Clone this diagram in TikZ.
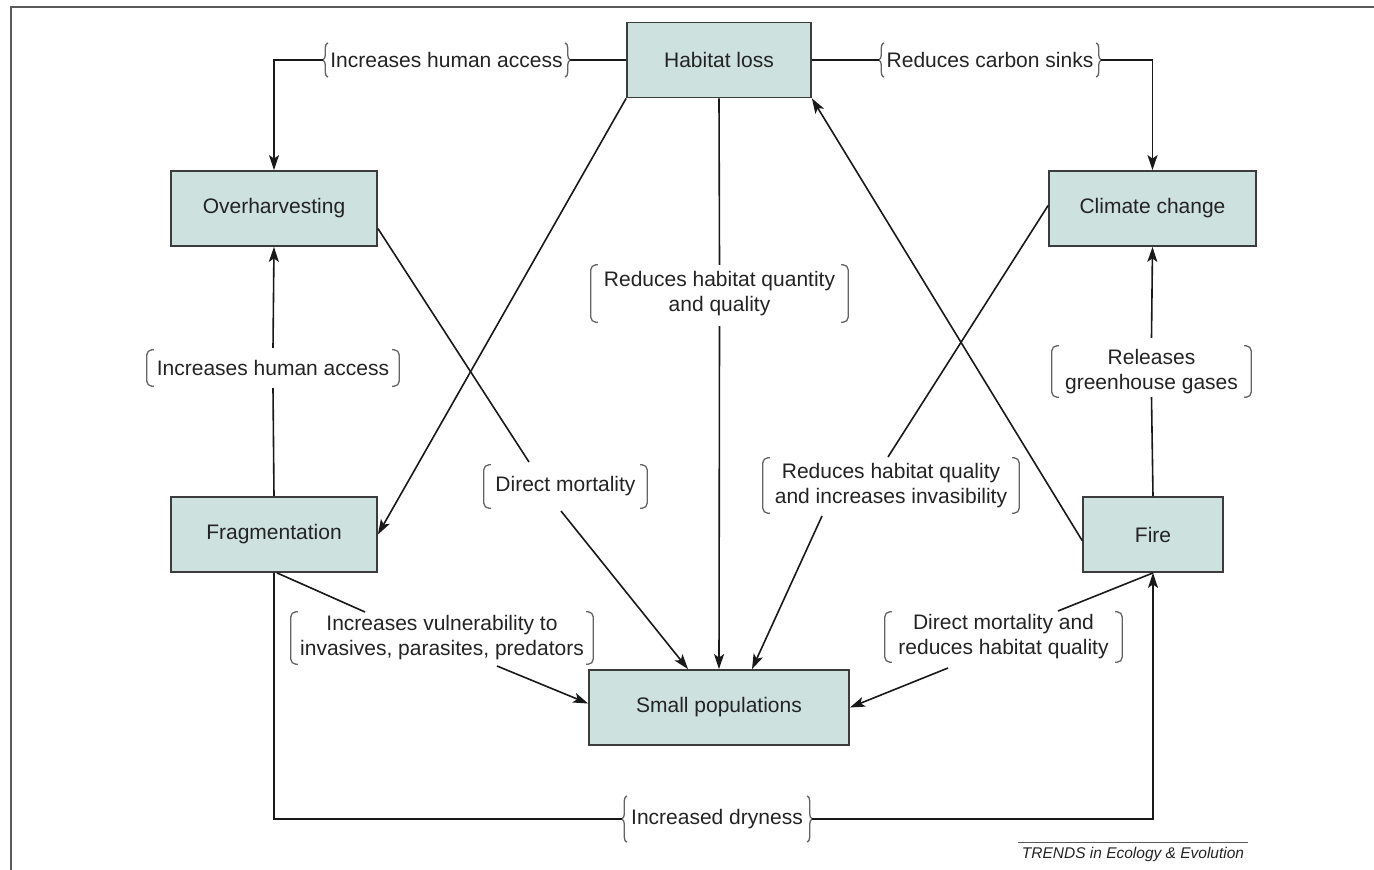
\documentclass[tikz,border=0pt]{standalone}
\usepackage{fontspec}
\setmainfont{Liberation Sans}
\usetikzlibrary{arrows.meta,decorations.pathreplacing}
\definecolor{boxfill}{RGB}{205,225,222}
\definecolor{boxline}{RGB}{60,60,60}
\definecolor{txt}{RGB}{35,35,35}
\definecolor{brk}{RGB}{100,100,100}
\definecolor{lc}{RGB}{25,25,25}
\definecolor{framec}{RGB}{90,90,90}
\newcommand\mysqb[1]{%
  \draw[brkline,rounded corners=5pt] ([xshift=7pt]#1.north west) -- (#1.north west) -- (#1.south west) -- ([xshift=7pt]#1.south west);
  \draw[brkline,rounded corners=5pt] ([xshift=-7pt]#1.north east) -- (#1.north east) -- (#1.south east) -- ([xshift=-7pt]#1.south east);}
\newcommand\mycub[1]{%
  \draw[brkline,decorate,decoration={brace,amplitude=5pt}] ([xshift=5pt]#1.south west) -- ([xshift=5pt]#1.north west);
  \draw[brkline,decorate,decoration={brace,amplitude=5pt}] ([xshift=-5pt]#1.north east) -- ([xshift=-5pt]#1.south east);}
\begin{document}
\begin{tikzpicture}[x=1pt,y=-1pt,
  font=\fontsize{21pt}{25pt}\selectfont,
  box/.style={draw=boxline, line width=1.8pt, fill=boxfill, minimum height=75pt, inner sep=0pt, text=txt},
  lab/.style={inner sep=0pt, align=center, text=txt},
  brkline/.style={draw=brk, line width=1.3pt},
  conn/.style={draw=lc, line width=1.6pt},
  arr/.style={conn, -{Stealth[length=15pt,width=10pt,inset=3.5pt]}}]
\useasboundingbox (0,0) rectangle (1374,870);
\draw[framec, line width=2pt] (11,870) -- (11,7) -- (1374,7);

% boxes
\node[box, minimum width=184pt] (hab) at (719,60) {Habitat loss};
\node[box, minimum width=206pt] (ovh) at (274,208.5) {Overharvesting};
\node[box, minimum width=207pt] (clim) at (1152.5,208.5) {Climate change};
\node[box, minimum width=206pt] (frag) at (274,534.5) {Fragmentation};
\node[box, minimum width=140pt] (fire) at (1153,534.5) {Fire};
\node[box, minimum width=260pt] (small) at (719,707.5) {Small populations};

% labels
\node[lab, minimum width=247pt, minimum height=34pt] (l1) at (446.5,60) {Increases human access};
\node[lab, minimum width=222pt, minimum height=34pt] (l2) at (990,60) {Reduces carbon sinks};
\node[lab, minimum width=252pt, minimum height=36pt] (l3) at (273,368) {Increases human access};
\node[lab, minimum width=257pt, minimum height=57pt] (l4) at (719.5,293.5) {Reduces habitat quantity\\and quality};
\node[lab, minimum width=163pt, minimum height=43pt] (l5) at (565.5,486.5) {Direct mortality};
\node[lab, minimum width=256pt, minimum height=55pt] (l6) at (891,485.5) {Reduces habitat quality\\and increases invasibility};
\node[lab, minimum width=199pt, minimum height=51pt] (l7) at (1151.5,371.5) {Releases\\greenhouse gases};
\node[lab, minimum width=302pt, minimum height=52pt] (l8) at (442,638) {Increases vulnerability to\\invasives, parasites, predators};
\node[lab, minimum width=237pt, minimum height=50pt] (l9) at (1003.5,637) {Direct mortality and\\reduces habitat quality};
\node[lab, minimum width=190pt, minimum height=46pt] (l10) at (717,819) {Increased dryness};

\mycub{l1}\mycub{l2}\mycub{l10}
\mysqb{l3}\mysqb{l4}\mysqb{l5}\mysqb{l6}\mysqb{l7}\mysqb{l8}\mysqb{l9}

% free ends at labels
\coordinate (c5a) at (529,462); \coordinate (c5b) at (561,511);
\coordinate (c6a) at (888,457); \coordinate (c6b) at (822,516);
\coordinate (c8a) at (365,612); \coordinate (c8b) at (497,666);
\coordinate (c9a) at (1058,611); \coordinate (c9b) at (948,668);

% connectors
\draw[conn] (hab.west) -- (l1.east);
\draw[arr] (l1.west) -| (ovh.north);
\draw[conn] (hab.east) -- (l2.west);
\draw[arr] (l2.east) -| (clim.north);
\draw[conn] (frag.north) -- ([yshift=-2pt]l3.south);
\draw[arr] ([yshift=2pt]l3.north) -- (ovh.south);
\draw[conn] (hab.south) -- (l4.north);
\draw[arr] ([yshift=-4pt]l4.south) -- (small.north);
\draw[arr] (hab.south west) -- (frag.east);
\draw[conn] ([yshift=-20pt]ovh.east) -- (c5a);
\draw[arr] (c5b) -- ([xshift=-31pt]small.north);
\draw[conn] ([yshift=3pt]clim.west) -- (c6a);
\draw[arr] (c6b) -- ([xshift=33pt]small.north);
\draw[arr] ([yshift=-6pt]fire.west) -- (hab.south east);
\draw[conn] (fire.north) -- (l7.south);
\draw[arr] ([yshift=8pt]l7.north) -- (clim.south);
\draw[conn] (fire.south) -- (c9a);
\draw[arr] (c9b) -- (small.east);
\draw[conn] ([xshift=3pt]frag.south) -- (c8a);
\draw[arr] (c8b) -- ([yshift=4pt]small.west);
\draw[conn] (frag.south) |- (l10.west);
\draw[arr] (l10.east) -| (fire.south);

% credit
\draw[draw=framec, line width=0.8pt] (1018,842) -- (1248,842);
\node[font=\fontsize{15.5pt}{18pt}\selectfont\itshape, text=txt, inner sep=0pt, anchor=base] (tr) at (1133,858) {TRENDS in Ecology \& Evolution};
\end{tikzpicture}
\end{document}
